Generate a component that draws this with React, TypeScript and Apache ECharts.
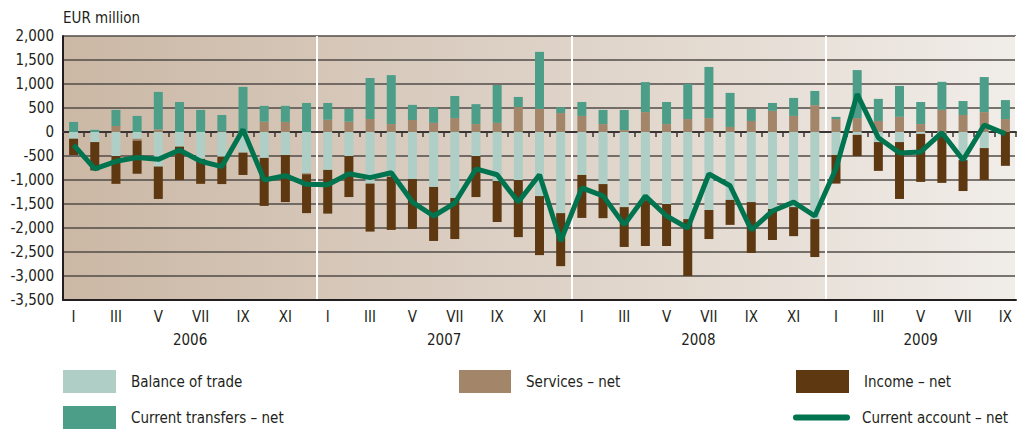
import React, { useEffect, useRef } from 'react';
import * as echarts from 'echarts';

const years = ['2006', '2007', '2008', '2009'];
const monthNumerals = ['I', 'II', 'III', 'IV', 'V', 'VI', 'VII', 'VIII', 'IX', 'X', 'XI', 'XII'];

// Monthly values, EUR million, Jan 2006 – Sep 2009
const balanceOfTrade = [
  -140, -210, -500, -140, -720, -305, -560, -515, -430, -540, -480, -860,
  -790, -500, -1075, -930, -980, -1145, -1375, -500, -1020, -1000, -1335, -1690,
  -895, -1085, -1565, -1420, -1500, -1815, -1625, -1415, -1460, -1605, -1565, -1815,
  -480, -60, -210, -210, -40, -20, -585, -335, 0,
];
const servicesNet = [
  0, 0, 125, -40, 55, 0, 0, 15, 0, 215, 210, -20,
  255, 215, 270, 165, 250, 190, 290, 165, 190, 520, 480, 395,
  335, 165, 40, 415, 165, 270, 290, 105, 230, 440, 335, 560,
  270, 290, 230, 315, 165, 460, 355, 415, 270,
];
const incomeNet = [
  -340, -590, -580, -690, -675, -695, -520, -570, -465, -1000, -980, -810,
  -910, -855, -1000, -1110, -1040, -1125, -855, -855, -855, -1190, -1230, -1105,
  -895, -710, -830, -955, -875, -1185, -605, -520, -1060, -645, -605, -790,
  -595, -440, -600, -1185, -1000, -1040, -645, -665, -705,
];
const currentTransfersNet = [
  210, 45, 335, 335, 780, 625, 460, 340, 940, 330, 335, 605,
  350, 265, 855, 1020, 315, 325, 460, 415, 790, 210, 1190, 120,
  290, 295, 420, 625, 460, 730, 1065, 710, 250, 165, 375, 295,
  45, 1000, 460, 645, 460, 585, 290, 730, 395,
];
const currentAccountNet = [
  -270, -770, -610, -530, -570, -375, -610, -720, 50, -1000, -910, -1090,
  -1100, -870, -950, -850, -1460, -1750, -1480, -770, -890, -1460, -890, -2270,
  -1165, -1330, -1935, -1335, -1750, -2000, -875, -1120, -2040, -1645, -1460, -1750,
  -760, 790, -120, -435, -415, -15, -585, 145, -40,
];

const categories: string[] = [];
years.forEach((y) => {
  monthNumerals.forEach((m) => {
    if (categories.length < balanceOfTrade.length) categories.push(`${m} ${y}`);
  });
});

const FONT = "'DejaVu Sans Condensed', 'Liberation Sans Narrow', 'Liberation Sans', sans-serif";
const TEXT = '#231f20';
const C_TRADE = '#aecec6';
const C_SERV = '#a3856a';
const C_INC = '#5d3811';
const C_TRANS = '#4c9e89';
const C_CA = '#00734f';

export default function App() {
  const ref = useRef<HTMLDivElement>(null);
  useEffect(() => {
    if (!ref.current) return;
    const chart = echarts.init(ref.current, undefined, { renderer: 'svg' });
    const yearLabelIdx: Record<number, string> = {};
    years.forEach((y, k) => {
      const start = k * 12;
      const n = Math.min(12, categories.length - start);
      if (n % 2 === 0) yearLabelIdx[start + n / 2 - 1] = `{h|${y}}`;
      else yearLabelIdx[start + (n - 1) / 2] = `{c|${y}}`;
    });
    const bandW = 953 / categories.length;
    const legendCommon = {
      selectedMode: false as const,
      padding: 0,
      itemGap: 0,
      textStyle: { fontSize: 15, color: TEXT, fontFamily: FONT, padding: [0, 0, 0, 10] },
    };
    chart.setOption({
      animation: false,
      title: {
        text: 'EUR million',
        left: 63,
        top: 10,
        padding: 0,
        textStyle: { fontSize: 15, fontWeight: 'normal', color: TEXT, fontFamily: FONT },
      },
      grid: {
        left: 63,
        top: 36,
        width: 953,
        height: 264,
        show: true,
        borderWidth: 0,
        outerBoundsMode: 'none',
        backgroundColor: new echarts.graphic.LinearGradient(0, 0, 1, 0, [
          { offset: 0, color: '#cbb8a5' },
          { offset: 0.35, color: '#d8cabd' },
          { offset: 0.7, color: '#e5dcd3' },
          { offset: 1, color: '#f1ede9' },
        ]),
      },
      legend: [
        { ...legendCommon, data: ['Balance of trade'], left: 63, top: 370, itemWidth: 53, itemHeight: 23, icon: 'rect' },
        { ...legendCommon, data: ['Services – net'], left: 459, top: 370, itemWidth: 52, itemHeight: 23, icon: 'rect' },
        { ...legendCommon, data: ['Income – net'], left: 796, top: 370, itemWidth: 53, itemHeight: 23, icon: 'rect' },
        { ...legendCommon, data: ['Current transfers – net'], left: 63, top: 406, itemWidth: 53, itemHeight: 23, icon: 'rect' },
        {
          ...legendCommon,
          data: ['Current account – net'],
          left: 793,
          top: 410,
          itemWidth: 57,
          itemHeight: 6,
          icon: 'path://M3,0 L54,0 A3,3 0 0 1 54,6 L3,6 A3,3 0 0 1 3,0 Z',
          textStyle: { ...legendCommon.textStyle, padding: [0, 0, 0, 7] },
        },
      ],
      xAxis: [
        {
          type: 'category',
          data: categories,
          position: 'bottom',
          boundaryGap: true,
          axisLine: { onZero: false, lineStyle: { color: TEXT, width: 2 } },
          axisTick: { show: false },
          axisLabel: {
            interval: 0,
            margin: 9,
            color: TEXT,
            fontSize: 15,
            fontFamily: FONT,
            formatter: (_v: string, i: number) => (i % 2 === 0 ? monthNumerals[i % 12] : ''),
          },
          splitLine: {
            show: true,
            interval: (i: number) => i > 0 && i % 12 === 0,
            lineStyle: { color: '#ffffff', width: 2 },
          },
        },
        {
          type: 'category',
          data: categories,
          position: 'bottom',
          boundaryGap: true,
          axisLine: { onZero: true, lineStyle: { color: '#3a3532', width: 2 } },
          axisTick: {
            show: true,
            length: 5,
            interval: (i: number) => i % 12 !== 0,
            lineStyle: { color: '#3a3532', width: 1.5 },
          },
          axisLabel: { show: false },
          splitLine: { show: false },
        },
        {
          type: 'category',
          data: categories,
          position: 'bottom',
          boundaryGap: true,
          axisLine: { show: false, onZero: false },
          axisTick: { show: false },
          splitLine: { show: false },
          axisLabel: {
            interval: 0,
            margin: 32,
            color: TEXT,
            fontSize: 15,
            fontFamily: FONT,
            formatter: (_v: string, i: number) => yearLabelIdx[i] || '',
            rich: {
              h: { fontSize: 15, color: TEXT, fontFamily: FONT, padding: [0, 0, 0, bandW] },
              c: { fontSize: 15, color: TEXT, fontFamily: FONT },
            },
          },
        },
      ],
      yAxis: {
        type: 'value',
        min: -3500,
        max: 2000,
        interval: 500,
        axisLine: { show: true, lineStyle: { color: TEXT, width: 2 } },
        axisTick: { show: false },
        axisLabel: {
          margin: 9,
          color: TEXT,
          fontSize: 15,
          fontFamily: FONT,
          formatter: (v: number) => v.toLocaleString('en-US'),
        },
        splitLine: { show: true, lineStyle: { color: '#504b47', width: 1.5 } },
      },
      series: [
        { name: 'Balance of trade', type: 'bar', stack: 'ca', barWidth: 9, data: balanceOfTrade, itemStyle: { color: C_TRADE } },
        { name: 'Services – net', type: 'bar', stack: 'ca', barWidth: 9, data: servicesNet, itemStyle: { color: C_SERV } },
        { name: 'Income – net', type: 'bar', stack: 'ca', barWidth: 9, data: incomeNet, itemStyle: { color: C_INC } },
        { name: 'Current transfers – net', type: 'bar', stack: 'ca', barWidth: 9, data: currentTransfersNet, itemStyle: { color: C_TRANS } },
        {
          name: 'Current account – net',
          type: 'line',
          data: currentAccountNet,
          symbol: 'none',
          showSymbol: false,
          lineStyle: { width: 5, color: C_CA },
          itemStyle: { color: C_CA },
          z: 5,
        },
      ],
    });
    return () => chart.dispose();
  }, []);
  return <div ref={ref} style={{ position: 'absolute', left: 0, top: 0, width: 1019, height: 429 }} />;
}
